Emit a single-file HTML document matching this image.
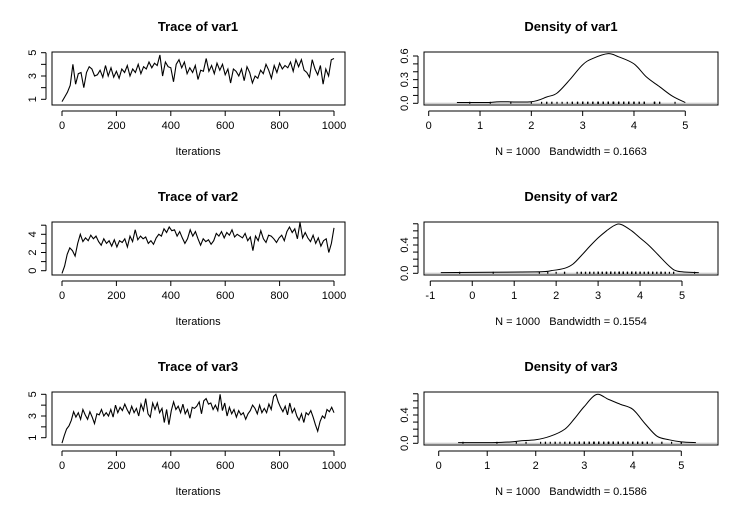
<!DOCTYPE html>
<html><head><meta charset="utf-8"><style>
body{margin:0;background:#fff}
svg{display:block;font-family:"Liberation Sans",Arial,sans-serif}
text{white-space:pre}
</style></head><body>
<svg id="c" width="744" height="511" viewBox="0 0 744 511"></svg>
<script>
const trace1=[0.8,1.2,1.6,2.2,4.0,2.3,3.2,3.3,2.0,3.3,3.8,3.6,3.0,3.1,3.5,2.9,3.9,3.0,3.7,2.9,3.4,2.8,3.6,3.3,3.9,3.0,3.6,3.3,4.0,3.2,3.8,3.6,4.2,3.7,4.1,3.9,4.8,3.0,4.2,3.8,3.7,2.5,4.0,4.4,3.7,4.2,3.2,3.7,3.3,3.9,2.7,3.5,3.4,4.5,3.4,3.9,3.2,4.1,3.5,4.0,3.1,3.6,2.4,3.6,3.4,3.0,3.6,2.6,3.8,3.3,2.4,3.0,2.8,3.5,3.2,4.0,3.5,2.8,3.9,3.3,4.1,3.6,3.9,3.7,4.2,3.4,4.4,3.8,4.4,3.5,3.3,2.9,4.4,3.6,3.1,3.9,2.3,3.6,3.0,4.4,4.5];
const trace2=[-0.3,0.5,1.8,2.5,2.2,1.6,3.0,4.0,3.2,3.6,3.3,3.9,3.5,3.8,3.2,2.8,3.5,3.0,3.3,2.7,3.4,2.6,3.3,3.1,3.5,2.6,3.8,3.2,4.5,3.4,3.8,3.5,3.7,3.0,3.3,2.9,3.6,4.0,3.8,4.6,4.2,4.8,4.4,4.5,3.8,4.3,3.6,3.0,3.5,4.5,3.8,4.3,3.5,2.8,3.5,3.2,3.4,2.9,3.3,4.1,3.8,4.3,3.6,4.2,3.9,4.5,3.7,4.0,3.8,3.6,4.1,3.3,3.7,2.2,3.8,3.3,4.4,3.5,3.1,3.9,3.8,3.5,3.1,3.6,3.9,3.3,4.3,4.8,4.2,4.6,3.5,5.3,3.6,4.2,3.6,3.2,3.9,3.0,3.6,2.7,3.3,3.5,2.0,3.0,4.7];
const trace3=[0.5,1.2,1.8,2.1,2.6,3.4,2.9,3.3,2.7,3.6,3.1,2.7,3.4,2.9,2.3,3.2,3.1,3.6,3.0,3.3,3.0,3.6,2.9,4.0,3.3,3.8,3.5,4.1,3.6,3.2,3.9,3.3,3.7,3.0,4.1,3.5,4.6,3.2,2.9,4.2,3.6,4.2,3.3,3.7,2.4,3.6,2.2,3.5,4.3,3.6,3.9,3.3,4.1,3.2,3.6,2.8,3.8,3.7,3.9,4.3,3.2,4.4,4.6,4.1,4.2,3.6,4.0,3.5,5.0,3.5,4.2,3.0,3.8,3.2,3.6,2.9,3.5,3.1,3.3,2.7,3.2,3.5,4.0,3.7,3.2,4.0,3.3,3.7,3.3,4.1,3.6,4.8,5.0,4.3,3.8,3.4,3.9,3.1,4.2,3.3,3.7,3.0,2.6,3.2,2.4,3.3,3.1,3.5,2.9,2.2,1.6,2.5,3.0,2.8,3.6,3.4,3.8,3.3];
const dens1X=[0.55,0.9,1.15,1.4,2.0,2.3,2.5,2.75,3.0,3.2,3.5,3.7,4.0,4.25,4.5,4.75,5.0];
const dens1Y=[0.01,0.01,0.01,0.02,0.02,0.08,0.13,0.3,0.49,0.57,0.63,0.59,0.5,0.33,0.21,0.09,0.01];
const dens2X=[-0.75,1.5,1.9,2.2,2.4,2.6,2.8,3.0,3.2,3.4,3.55,3.8,4.0,4.2,4.45,4.7,4.9,5.4];
const dens2Y=[0.01,0.02,0.04,0.07,0.13,0.25,0.38,0.5,0.6,0.68,0.69,0.6,0.5,0.4,0.25,0.1,0.03,0.01];
const dens3X=[0.4,0.8,1.1,1.5,1.7,2.0,2.3,2.6,2.8,3.0,3.25,3.5,3.75,4.0,4.25,4.5,4.75,5.0,5.3];
const dens3Y=[0.01,0.01,0.01,0.02,0.035,0.05,0.1,0.2,0.35,0.52,0.69,0.62,0.55,0.48,0.28,0.1,0.05,0.02,0.01];
const bandwidths=["0.1663","0.1554","0.1586"];

const svg=document.getElementById('c');
const NS='http://www.w3.org/2000/svg';
function mk(tag,attrs,parent,text){const e=document.createElementNS(NS,tag);for(const k in attrs)e.setAttribute(k,attrs[k]);if(text!==undefined)e.textContent=text;(parent||svg).appendChild(e);return e;}
function fmt(v,d){return v.toFixed(d);}
function smooth(pts){
 let d='M'+pts[0][0].toFixed(1)+','+pts[0][1].toFixed(1);
 for(let i=0;i<pts.length-1;i++){
  const p0=pts[Math.max(0,i-1)],p1=pts[i],p2=pts[i+1],p3=pts[Math.min(pts.length-1,i+2)];
  const c1=[p1[0]+(p2[0]-p0[0])/6,p1[1]+(p2[1]-p0[1])/6];
  const c2=[p2[0]-(p3[0]-p1[0])/6,p2[1]-(p3[1]-p1[1])/6];
  d+='C'+c1[0].toFixed(1)+','+c1[1].toFixed(1)+' '+c2[0].toFixed(1)+','+c2[1].toFixed(1)+' '+p2[0].toFixed(1)+','+p2[1].toFixed(1);
 }
 return d;
}

const panels=[
 {tr:trace1,dx:dens1X,dy:dens1Y,off:0,ty0:1,ty1:5,ty0px:99.3,ty1px:52.7,tTicks:[1,2,3,4,5],tLabs:[1,3,5],
  dx0:0,dx1:5,dx0px:428.7,dx1px:685.3,dxTicks:[0,1,2,3,4,5],dyTop:0.6,dyTopPx:56,dyTicks:[0,0.1,0.2,0.3,0.4,0.5,0.6],dyLabs:[0,0.3,0.6]},
 {tr:trace2,dx:dens2X,dy:dens2Y,off:170,ty0:0,ty1:4,ty0px:100.7,ty1px:64.3,tTicks:[0,1,2,3,4,5],tLabs:[0,2,4],
  dx0:-1,dx1:5,dx0px:430.3,dx1px:682,dxTicks:[-1,0,1,2,3,4,5],dyTop:0.4,dyTopPx:75,dyTicks:[0,0.1,0.2,0.3,0.4,0.5,0.6,0.7],dyLabs:[0,0.4]},
 {tr:trace3,dx:dens3X,dy:dens3Y,off:340,ty0:1,ty1:5,ty0px:97.7,ty1px:54.3,tTicks:[1,2,3,4,5],tLabs:[1,3,5],
  dx0:0,dx1:5,dx0px:438.7,dx1px:681.3,dxTicks:[0,1,2,3,4,5],dyTop:0.4,dyTopPx:75,dyTicks:[0,0.1,0.2,0.3,0.4,0.5,0.6,0.7],dyLabs:[0,0.4]}
];

panels.forEach((p,i)=>{
 const o=p.off, n=i+1;
 const boxTop=52+o, boxBot=105+o;
 const g=mk('g',{},svg);
 
 
 const xs=v=>62+(v/1000)*(334-62);
 const ys=v=>o+p.ty0px+(v-p.ty0)*(p.ty1px-p.ty0px)/(p.ty1-p.ty0);
 const t=mk('text',{x:198,y:31+o,'text-anchor':'middle','font-size':'13','font-weight':'bold'},g,'Trace of var'+n);
 
 const box=mk('rect',{x:52,y:boxTop,width:293,height:53,fill:'none',stroke:'#000','stroke-width':1},g);
 
 let d='';p.tr.forEach((v,k)=>{d+=(k?'L':'M')+xs(k*1000/(p.tr.length-1)).toFixed(1)+','+ys(v).toFixed(1);});
 const ln=mk('path',{d:d,fill:'none',stroke:'#000','stroke-width':1.1},g);
 
 mk('line',{x1:xs(0),x2:xs(1000),y1:boxBot+6,y2:boxBot+6,stroke:'#000'},g);
 [0,200,400,600,800,1000].forEach(v=>{
  mk('line',{x1:xs(v),x2:xs(v),y1:boxBot+6,y2:boxBot+11,stroke:'#000'},g);
  const l=mk('text',{x:xs(v),y:boxBot+24,'text-anchor':'middle','font-size':'11'},g,v);
  
 });
 const xl=mk('text',{x:198,y:boxBot+50,'text-anchor':'middle','font-size':'11'},g,'Iterations');
 
 const yt=p.tTicks;
 mk('line',{x1:46,x2:46,y1:ys(yt[0]),y2:ys(yt[yt.length-1]),stroke:'#000'},g);
 yt.forEach(v=>mk('line',{x1:41,x2:46,y1:ys(v),y2:ys(v),stroke:'#000'},g));
 p.tLabs.forEach(v=>{
  const l=mk('text',{x:0,y:0,'text-anchor':'middle','font-size':'11',transform:`translate(36,${ys(v)}) rotate(-90)`},g,v);
  
 });

 const h=mk('g',{},svg);
 
 
 const dxs=v=>p.dx0px+(v-p.dx0)*(p.dx1px-p.dx0px)/(p.dx1-p.dx0);
 const zeroPx=boxBot-1.7;
 const dys=v=>zeroPx-v*(zeroPx-(p.dyTopPx+o))/p.dyTop;
 const t2=mk('text',{x:571,y:31+o,'text-anchor':'middle','font-size':'13','font-weight':'bold'},h,'Density of var'+n);
 
 const b2=mk('rect',{x:424,y:boxTop,width:294,height:53,fill:'none',stroke:'#000'},h);
 
 mk('line',{x1:425,x2:717,y1:dys(0),y2:dys(0),stroke:'#bbb'},h);
 p.tr.forEach(v=>{mk('line',{x1:dxs(v),x2:dxs(v),y1:dys(0)-1.5,y2:dys(0)+0.5,stroke:'#000','stroke-width':1.2},h);});
 const pts=p.dx.map((v,k)=>[dxs(v),dys(p.dy[k])]);
 const dl=mk('path',{d:smooth(pts),fill:'none',stroke:'#000','stroke-width':1},h);
 
 const dt=p.dxTicks;
 mk('line',{x1:dxs(dt[0]),x2:dxs(dt[dt.length-1]),y1:boxBot+6,y2:boxBot+6,stroke:'#000'},h);
 dt.forEach(v=>{
  mk('line',{x1:dxs(v),x2:dxs(v),y1:boxBot+6,y2:boxBot+11,stroke:'#000'},h);
  const l=mk('text',{x:dxs(v),y:boxBot+24,'text-anchor':'middle','font-size':'11'},h,v);
  
 });
 const nl=mk('text',{x:571,y:boxBot+50,'text-anchor':'middle','font-size':'11'},h,'N = 1000   Bandwidth = '+bandwidths[i]);
 
 const yy=p.dyTicks;
 mk('line',{x1:418,x2:418,y1:dys(yy[0]),y2:dys(yy[yy.length-1]),stroke:'#000'},h);
 yy.forEach(v=>mk('line',{x1:413,x2:418,y1:dys(v),y2:dys(v),stroke:'#000'},h));
 p.dyLabs.forEach(v=>{
  const l=mk('text',{x:0,y:0,'text-anchor':'middle','font-size':'11',transform:`translate(408,${dys(v)}) rotate(-90)`},h,fmt(v,1));
  
 });
});
</script>
</body></html>
